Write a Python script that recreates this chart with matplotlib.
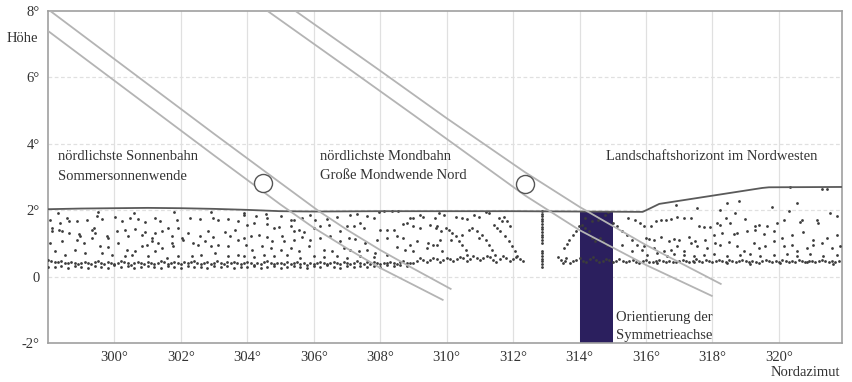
import numpy as np
import matplotlib
matplotlib.use("Agg")
import matplotlib.pyplot as plt

FONT = ["Liberation Serif", "DejaVu Serif"]
plt.rcParams["font.family"] = FONT

# ---------------- data ----------------
x_ticks = [300, 302, 304, 306, 308, 310, 312, 314, 316, 318, 320]
x_ticklabels = ["300°", "302°", "304°", "306°", "308°", "310°", "312°", "314°", "316°", "318°", "320°"]
y_ticks = [-2, 0, 2, 4, 6, 8]
y_ticklabels = ["-2°", "0", "2°", "4°", "6°", "8°"]

# landscape horizon profile (upper boundary)
horizon_az = [298.0, 299.0, 300.0, 301.0, 302.0, 303.0, 304.0, 305.0, 306.0, 308.0, 310.0,
              312.0, 314.0, 315.9, 316.05, 316.4, 319.5, 319.7, 321.9]
horizon_alt = [2.03, 2.05, 2.06, 2.07, 2.06, 2.04, 2.01, 1.97, 1.96, 1.97, 1.97,
               1.97, 1.96, 1.95, 2.02, 2.19, 2.67, 2.69, 2.70]

# northernmost sun path (band edges)
sun_upper_az = [298.07, 301.0, 303.0, 305.0, 306.14, 307.0, 308.0, 309.0, 310.12]
sun_upper_alt = [8.00, 5.80, 4.30, 2.82, 1.98, 1.41, 0.80, 0.24, -0.37]
sun_lower_az = [298.0, 301.0, 303.0, 305.0, 306.0, 307.0, 308.0, 309.0, 309.88]
sun_lower_alt = [7.40, 5.15, 3.65, 2.17, 1.47, 0.85, 0.26, -0.25, -0.70]

# northernmost moon path (band edges)
moon_upper_az = [305.45, 308.0, 310.0, 312.35, 314.0, 316.0, 318.25]
moon_upper_alt = [8.00, 6.20, 4.77, 3.15, 2.10, 0.95, -0.22]
moon_lower_az = [304.61, 307.0, 309.0, 312.35, 314.0, 316.0, 317.98]
moon_lower_alt = [8.00, 6.30, 4.87, 2.45, 1.40, 0.35, -0.58]

# disc markers
sun_disc = (304.46, 2.82)
moon_disc = (312.35, 2.79)

# axis of symmetry orientation
axis_az_from, axis_az_to = 314.0, 315.0
axis_alt_top = 1.96

# terrain points: dense near band (every 0.1 deg from 298.0)
band_a = [0.50, 0.47, 0.45, 0.43, 0.46, 0.42, 0.40, 0.44, 0.41, 0.38,
          0.42, 0.45, 0.40, 0.37, 0.43, 0.46, 0.41, 0.39, 0.44, 0.40,
          0.38, 0.42, 0.47, 0.43, 0.40, 0.36, 0.41, 0.45, 0.42, 0.39,
          0.44, 0.40, 0.37, 0.42, 0.46, 0.43, 0.39, 0.41, 0.45, 0.40,
          0.37, 0.43, 0.40, 0.44, 0.48, 0.42, 0.38, 0.41, 0.44, 0.39,
          0.42, 0.46, 0.41, 0.38, 0.43, 0.40, 0.45, 0.42, 0.37, 0.41,
          0.44, 0.40, 0.36, 0.42, 0.39, 0.43, 0.46, 0.41, 0.38, 0.42,
          0.40, 0.37, 0.43, 0.39, 0.41, 0.44, 0.38, 0.40, 0.36, 0.42,
          0.39, 0.41, 0.44, 0.40, 0.37, 0.42, 0.45, 0.40, 0.38, 0.43,
          0.41, 0.38, 0.42, 0.46, 0.40, 0.37, 0.43, 0.39, 0.44, 0.41,
          0.38, 0.42, 0.40, 0.45, 0.41, 0.39, 0.43, 0.47, 0.42, 0.40,
          0.42, 0.48, 0.55, 0.50, 0.44, 0.49, 0.56, 0.52, 0.45, 0.50,
          0.57, 0.53, 0.46, 0.52, 0.60, 0.55, 0.48, 0.54, 0.62, 0.56,
          0.49, 0.55, 0.63, 0.58, 0.50, 0.45, 0.53, 0.61, 0.55, 0.47,
          0.52, 0.60, 0.54, 0.46, np.nan, np.nan, np.nan, np.nan, np.nan, np.nan,
          np.nan, np.nan, np.nan, np.nan, np.nan, np.nan, np.nan, 0.42, 0.46, 0.50,
          0.55, 0.48, 0.44, 0.52, 0.58, 0.50, 0.45, 0.47, 0.53, 0.49,
          0.44, 0.48, 0.52, 0.47, 0.43, 0.46, 0.50, 0.45, 0.42, 0.46,
          0.49, 0.45, 0.43, 0.47, 0.50, 0.46, 0.44, 0.48, 0.45, 0.43,
          0.47, 0.50, 0.46, 0.44, 0.48, 0.52, 0.47, 0.45, 0.49, 0.46,
          0.44, 0.48, 0.51, 0.47, 0.45, 0.49, 0.46, 0.43, 0.47, 0.50,
          0.46, 0.44, 0.48, 0.45, 0.42, 0.47, 0.50, 0.46, 0.44, 0.48,
          0.45, 0.49, 0.46, 0.43, 0.47, 0.45, 0.50, 0.47, 0.44, 0.48,
          0.46, 0.43, 0.47, 0.50, 0.46, 0.44, 0.48, 0.45, 0.47]
band_a_start, band_a_step = 298.0, 0.1

# second, lower row (every 0.2 deg from 298.0)
band_b = [0.30, 0.28, 0.33, 0.27, 0.31, 0.29, 0.26, 0.32, 0.30, 0.27,
          0.34, 0.29, 0.31, 0.27, 0.30, 0.33, 0.28, 0.26, 0.31, 0.29,
          0.27, 0.32, 0.30, 0.28, 0.25, 0.31, 0.29, 0.33, 0.27, 0.30,
          0.28, 0.32, 0.26, 0.29, 0.31, 0.27, 0.30, 0.33, 0.28, 0.26,
          0.31, 0.29, 0.34, 0.30, 0.27, 0.31, 0.28, 0.32, 0.29, 0.33,
          0.30, 0.35, 0.31, 0.36, 0.33]
band_b_start, band_b_step = 298.0, 0.2

# scattered terrain points, west part
west_pts = [
    (298.07, 1.71), (298.37, 1.61), (298.57, 1.76), (298.62, 1.68), (298.87, 1.66), (299.17, 1.71),
    (299.47, 1.84), (299.62, 1.74), (300.02, 1.81), (300.22, 1.68), (300.47, 1.78), (300.72, 1.74),
    (300.92, 1.64), (301.22, 1.76), (301.37, 1.66), (301.87, 1.71), (301.92, 1.46), (302.27, 1.78),
    (302.57, 1.74), (302.97, 1.76), (303.12, 1.71), (303.42, 1.74), (303.72, 1.68),
    (298.12, 1.46), (298.12, 1.36), (298.32, 1.41), (298.42, 1.36), (298.62, 1.31), (298.92, 1.28),
    (298.97, 1.21), (299.32, 1.41), (299.37, 1.46), (299.42, 1.31), (299.77, 1.21), (299.82, 1.16),
    (300.07, 1.38), (300.32, 1.41), (300.42, 1.21), (300.62, 1.44), (300.82, 1.26), (300.92, 1.34),
    (301.12, 1.16), (301.22, 1.31), (301.42, 1.38), (301.62, 1.46), (301.72, 1.21), (302.02, 1.16),
    (302.22, 1.31), (302.57, 1.21), (302.82, 1.36), (302.97, 1.18), (303.32, 1.34), (303.47, 1.21),
    (303.62, 1.41),
    (298.07, 1.01), (298.42, 1.06), (298.87, 1.11), (299.07, 1.01), (299.32, 1.16), (299.57, 0.91),
    (299.82, 0.88), (300.12, 1.01), (300.37, 0.81), (300.62, 0.76), (300.82, 0.91), (300.97, 0.96),
    (301.12, 1.06), (301.32, 1.01), (301.42, 0.86), (301.72, 1.01), (301.77, 0.91), (302.07, 1.11),
    (302.37, 1.01), (302.52, 0.96), (302.72, 1.06), (302.92, 0.91), (303.12, 0.96), (303.42, 0.91),
    (303.72, 1.11),
    (298.22, 0.76), (298.52, 0.66), (298.82, 0.81), (299.12, 0.71), (299.62, 0.71), (299.92, 0.66),
    (300.32, 0.61), (300.52, 0.66), (301.02, 0.61), (301.22, 0.76), (301.57, 0.56), (301.92, 0.61),
    (302.32, 0.61), (302.62, 0.66), (303.02, 0.71), (303.42, 0.61), (303.72, 0.66),
    (298.30, 1.92), (299.50, 1.95), (300.60, 1.93), (301.80, 1.96), (302.90, 1.94), (303.90, 1.93),
]

# scattered terrain points, middle-west part
midwest_pts = [
    (303.90, 1.86), (304.25, 1.84), (304.55, 1.88), (304.60, 1.76), (305.00, 1.84), (305.30, 1.71),
    (305.40, 1.71), (305.65, 1.78), (305.90, 1.86), (306.05, 1.71), (306.40, 1.74), (306.70, 1.81),
    (307.10, 1.86), (307.30, 1.88), (307.60, 1.84), (307.80, 1.76), (307.95, 1.96), (308.10, 1.98),
    (308.35, 1.98), (308.55, 1.98), (308.90, 1.78), (309.00, 1.76), (309.20, 1.86), (309.30, 1.81),
    (309.65, 1.76),
    (304.00, 1.56), (304.20, 1.61), (304.60, 1.58), (304.80, 1.46), (304.95, 1.48), (305.30, 1.51),
    (305.40, 1.36), (305.55, 1.41), (305.70, 1.34), (306.00, 1.46), (306.20, 1.51), (306.45, 1.56),
    (306.80, 1.38), (307.00, 1.51), (307.20, 1.51), (307.40, 1.61), (307.50, 1.46), (308.00, 1.41),
    (308.20, 1.41), (308.40, 1.41), (308.70, 1.58), (308.80, 1.61), (309.00, 1.51), (309.20, 1.46),
    (309.50, 1.56), (309.70, 1.51),
    (303.90, 1.16), (304.10, 1.21), (304.35, 1.26), (304.60, 1.18), (304.75, 1.06), (305.05, 1.21),
    (305.10, 1.06), (305.40, 1.11), (305.65, 1.18), (305.90, 1.11), (306.20, 1.16), (306.50, 1.21),
    (306.80, 1.06), (307.05, 1.16), (307.25, 1.14), (307.55, 1.01), (307.90, 1.11), (308.20, 1.16),
    (308.50, 1.21), (308.70, 1.16), (308.90, 0.96), (309.10, 1.06), (309.45, 1.01), (309.60, 0.96),
    (309.80, 1.11),
    (303.95, 0.96), (304.15, 0.81), (304.45, 0.91), (304.70, 0.86), (305.00, 0.81), (305.30, 0.86),
    (305.55, 0.76), (305.85, 0.91), (306.30, 0.81), (306.55, 0.76), (306.90, 0.86), (307.10, 0.81),
    (307.35, 0.76), (307.60, 0.81), (307.85, 0.71), (308.50, 0.88), (308.75, 0.81), (309.00, 0.76),
    (309.40, 0.86),
    (303.90, 0.61), (304.20, 0.58), (304.50, 0.64), (304.80, 0.61), (305.20, 0.66), (305.60, 0.56),
    (306.00, 0.61), (306.30, 0.58), (306.70, 0.63), (307.00, 0.56), (307.40, 0.61), (307.80, 0.58),
    (308.20, 0.64),
]

# scattered terrain points, middle part (chains near the gap)
mid_pts = [
    (309.77, 1.91), (309.92, 1.86), (310.27, 1.81), (310.47, 1.78), (310.62, 1.74), (310.82, 1.86),
    (310.97, 1.81), (311.17, 1.96), (311.27, 1.91), (311.57, 1.76), (311.67, 1.66),
    (309.97, 1.46), (310.07, 1.41), (310.17, 1.31), (310.27, 1.21), (310.37, 1.06), (310.47, 0.96),
    (310.57, 0.81), (310.62, 0.66), (309.67, 1.46), (309.82, 1.36), (309.72, 0.96), (309.87, 0.76),
    (310.67, 1.41), (310.77, 1.46), (310.92, 1.36), (311.07, 1.26), (311.17, 1.11), (311.27, 0.96),
    (311.37, 0.81), (311.47, 0.66),
    (311.42, 1.56), (311.52, 1.46), (311.62, 1.36), (311.77, 1.21), (311.87, 1.06), (311.97, 0.91),
    (312.07, 0.76), (312.12, 0.61),
    (311.72, 1.81), (311.82, 1.66), (311.92, 1.51), (310.97, 1.16), (310.47, 1.26), (310.12, 1.11),
    (313.36, 0.58), (313.43, 0.50), (313.50, 0.42), (313.56, 0.46), (313.60, 0.55),
    (313.54, 0.86), (313.61, 0.98), (313.69, 1.11), (313.79, 1.26), (313.89, 1.38), (313.99, 1.51),
    (314.07, 1.56), (314.17, 1.46), (314.27, 1.36), (314.37, 1.16), (314.47, 1.06), (314.62, 1.16),
    (314.72, 1.06), (314.82, 0.96), (314.17, 1.76), (314.37, 1.66), (314.57, 1.71), (314.77, 1.86),
    (314.87, 1.96),
    (315.02, 1.61), (315.12, 1.51), (315.27, 1.36), (315.42, 1.26), (315.57, 1.11), (315.72, 0.96),
    (315.87, 0.81), (315.47, 1.76), (315.67, 1.71), (315.82, 1.61), (315.27, 0.96), (315.57, 0.76),
]

# vertical row of points at the gap
gap_az = 312.86
gap_alt = [1.98, 1.90, 1.82, 1.74, 1.66, 1.58, 1.50, 1.42, 1.34, 1.26, 1.18, 1.10, 1.02,
           0.78, 0.70, 0.62, 0.54, 0.46, 0.38, 0.30]

# scattered terrain points, east part
east_pts = [
    (316.89, 2.16), (317.54, 2.06), (318.44, 2.21), (318.79, 2.29), (318.24, 2.01), (318.69, 1.93),
    (319.79, 2.09), (320.29, 1.99), (320.54, 2.23), (321.29, 2.63), (321.44, 2.63), (320.34, 2.71),
    (315.94, 1.51), (316.14, 1.51), (316.29, 1.66), (316.44, 1.69), (316.59, 1.71), (316.74, 1.73),
    (316.94, 1.79), (317.14, 1.76), (317.34, 1.76), (317.59, 1.51), (317.74, 1.48), (317.94, 1.49),
    (318.14, 1.61), (318.24, 1.56), (318.42, 1.76), (318.54, 1.61), (318.99, 1.73), (319.29, 1.51),
    (319.39, 1.56), (319.64, 1.51), (319.94, 1.61), (320.14, 1.69), (320.64, 1.63), (320.69, 1.69),
    (321.14, 1.71), (321.19, 1.61), (321.54, 1.91), (321.74, 1.83),
    (315.99, 1.16), (316.09, 1.13), (316.24, 1.09), (316.44, 1.19), (316.69, 1.06), (316.84, 1.13),
    (316.99, 1.11), (317.29, 1.19), (317.49, 1.08), (317.79, 1.11), (318.04, 1.26), (318.29, 1.31),
    (318.64, 1.29), (318.74, 1.31), (319.04, 1.36), (319.29, 1.41), (319.54, 1.29), (319.84, 1.36),
    (320.09, 1.16), (320.39, 1.26), (320.74, 1.33), (321.04, 1.11), (321.44, 1.16), (321.74, 1.26),
    (315.94, 0.91), (316.24, 0.86), (316.54, 0.76), (316.74, 0.81), (316.94, 0.91), (317.14, 0.76),
    (317.34, 1.01), (317.54, 0.91), (317.84, 0.86), (318.09, 1.01), (318.24, 0.96), (318.49, 1.03),
    (318.74, 0.91), (318.94, 0.76), (319.24, 1.01), (319.39, 0.86), (319.59, 0.91), (319.84, 1.06),
    (320.14, 0.91), (320.39, 0.96), (320.54, 0.76), (320.84, 0.86), (321.04, 0.96), (321.29, 1.01),
    (321.59, 0.86), (321.84, 0.91),
    (316.04, 0.66), (316.34, 0.71), (316.64, 0.63), (316.84, 0.69), (317.14, 0.66), (317.44, 0.61),
    (317.74, 0.66), (318.04, 0.69), (318.44, 0.63), (318.84, 0.66), (319.14, 0.69), (319.44, 0.61),
    (319.84, 0.66), (320.24, 0.69), (320.54, 0.63), (320.94, 0.69), (321.34, 0.61), (321.74, 0.66),
    (316.34, 0.41), (317.44, 0.43), (318.44, 0.41), (319.14, 0.39), (320.04, 0.41), (320.84, 0.43),
    (321.64, 0.39),
]

# ---------------- figure ----------------
W, H = 853, 382
fig = plt.figure(figsize=(W / 100, H / 100), dpi=100)
ax = fig.add_axes([48 / W, 39 / H, 794 / W, 332 / H])
ax.set_xlim(298.0, 321.9)
ax.set_ylim(-2, 8)

grid_c = "#e0e0e0"
for xv in x_ticks:
    ax.axvline(xv, color=grid_c, lw=0.9, zorder=0)
for yv in [0, 2, 4, 6]:
    ax.axhline(yv, color=grid_c, lw=0.9, ls=(0, (3, 2)), zorder=0)

# orientation of the axis of symmetry
ax.fill_between([axis_az_from, axis_az_to], -2, axis_alt_top, color="#2b1f5e", lw=0, zorder=1)

dot_c = "#3c3c3c"
# band points
ba_x = band_a_start + band_a_step * np.arange(len(band_a))
ax.scatter(ba_x, band_a, s=4, color=dot_c, lw=0, zorder=3)
bb_x = band_b_start + band_b_step * np.arange(len(band_b))
ax.scatter(bb_x, band_b, s=4, color=dot_c, lw=0, zorder=3)
for pts in (west_pts, midwest_pts, mid_pts, east_pts):
    px, py = zip(*pts)
    ax.scatter(px, py, s=4, color=dot_c, lw=0, zorder=3)
ax.scatter([gap_az] * len(gap_alt), gap_alt, s=4, color=dot_c, lw=0, zorder=3)

# horizon line
ax.plot(horizon_az, horizon_alt, color="#5a5a5a", lw=1.3, zorder=4)

# sun and moon paths
path_c = "#b4b4b4"
for xs, ys in ((sun_upper_az, sun_upper_alt), (sun_lower_az, sun_lower_alt),
               (moon_upper_az, moon_upper_alt), (moon_lower_az, moon_lower_alt)):
    ax.plot(xs, ys, color=path_c, lw=1.3, zorder=5)

for d in (sun_disc, moon_disc):
    ax.plot([d[0]], [d[1]], marker="o", ms=13, mfc="white", mec="#555555", mew=1.0, zorder=6)

# axes styling
for s in ax.spines.values():
    s.set_color("#a0a0a0")
    s.set_linewidth(1.2)
ax.set_xticks(x_ticks)
ax.set_xticklabels(x_ticklabels)
ax.set_yticks(y_ticks)
ax.set_yticklabels(y_ticklabels)
ax.tick_params(length=0, labelsize=10.5, labelcolor="#333333", pad=6)

txt = dict(fontsize=10.5, color="#333333", va="center", ha="left", zorder=7)
ax.text(298.31, 3.62, "nördlichste Sonnenbahn", **txt)
ax.text(298.31, 3.02, "Sommersonnenwende", **txt)
ax.text(306.2, 3.62, "nördlichste Mondbahn", **txt)
ax.text(306.2, 3.04, "Große Mondwende Nord", **txt)
ax.text(314.79, 3.62, "Landschaftshorizont im Nordwesten", **txt)
ax.text(315.09, -1.22, "Orientierung der", **txt)
ax.text(315.09, -1.76, "Symmetrieachse", **txt)

fig.text(22 / W, 1 - 38 / H, "Höhe", fontsize=10.5, color="#333333", ha="center", va="center")
fig.text(840 / W, 1 - 373 / H, "Nordazimut", fontsize=10.5, color="#333333", ha="right", va="center")

fig.savefig("out.png", dpi=100)
